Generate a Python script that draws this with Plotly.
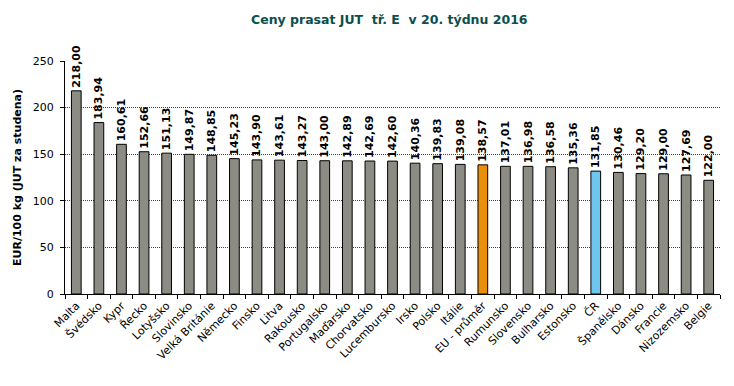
import plotly.graph_objects as go

countries = ["Malta", "Švédsko", "Kypr", "Řecko", "Lotyšsko", "Slovinsko", "Velká Británie",
             "Německo", "Finsko", "Litva", "Rakousko", "Portugalsko", "Maďarsko", "Chorvatsko",
             "Lucembursko", "Irsko", "Polsko", "Itálie", "EU - průměr", "Rumunsko", "Slovensko",
             "Bulharsko", "Estonsko", "ČR", "Španělsko", "Dánsko", "Francie", "Nizozemsko", "Belgie"]
prices = [218.00, 183.94, 160.61, 152.66, 151.13, 149.87, 148.85, 145.23, 143.90, 143.61,
          143.27, 143.00, 142.89, 142.69, 142.60, 140.36, 139.83, 139.08, 138.57, 137.01,
          136.98, 136.58, 135.36, 131.85, 130.46, 129.20, 129.00, 127.69, 122.00]

colors = []
for c in countries:
    if c == "EU - průměr":
        colors.append("#E8900C")
    elif c == "ČR":
        colors.append("#6EC6EE")
    else:
        colors.append("#8C8C84")

W, H = 718, 370  # page body adds 8px margin

fig = go.Figure(go.Bar(
    x=countries, y=prices,
    marker=dict(color=colors, line=dict(color="black", width=1)),
    width=0.43,
    text=prices, texttemplate="%{y:.2f}", textposition="outside", textangle=-90,
    textfont=dict(family="DejaVu Sans", size=11, color="black", weight="bold"),
    cliponaxis=False, constraintext="none",
))

fig.update_layout(
    width=W, height=H,
    margin=dict(l=57, r=6, t=53, b=84, autoexpand=False),
    paper_bgcolor="white", plot_bgcolor="white",
    separators=", ",
    font=dict(family="DejaVu Sans", size=11, color="black"),
    title=dict(text="<b>Ceny prasat JUT  tř. E  v 20. týdnu 2016</b>", x=0.531, xanchor="center",
               yref="container", y=1 - 12 / H, yanchor="middle", font=dict(size=12.5, color="#0B4F4F")),
    showlegend=False,
)
fig.update_xaxes(tickangle=-45, showline=True, linecolor="black", linewidth=1,
                 ticks="outside", tickson="boundaries", ticklen=4, tickcolor="black",
                 tickfont=dict(size=11), automargin=False)
fig.update_yaxes(range=[0, 250], dtick=50, showline=True, linecolor="black", linewidth=1,
                 ticks="outside", ticklen=4, tickcolor="black", ticklabelstandoff=4,
                 showgrid=True, gridcolor="#444444", griddash="1px,1px", gridwidth=1,
                 zeroline=False, automargin=False,
                 title=dict(text="<b>EUR/100 kg (JUT za studena)</b>", font=dict(size=11), standoff=8))

fig.write_html("out.html")
